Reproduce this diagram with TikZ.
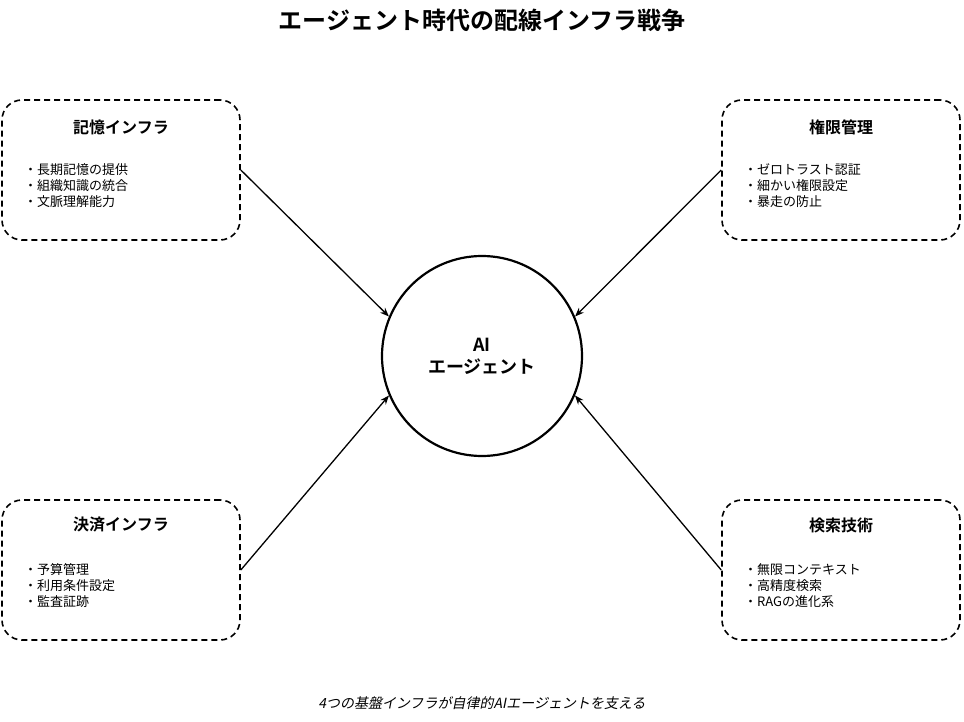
\documentclass[tikz,border=0pt]{standalone}
\usepackage{fontspec}
\setmainfont{Noto Sans CJK JP}[BoldFont={Noto Sans CJK JP Bold}, AutoFakeSlant=0.2]
\usepackage{tikz}
\usetikzlibrary{arrows.meta}
\usetikzlibrary{positioning}
\tikzset{
infra box/.style = { rectangle, draw = black, line width = 1.6pt, dash pattern = on 6pt off 4pt, rounded corners = 20pt, minimum width = 238pt, minimum height = 140pt, inner sep = 0pt },
infra title/.style = { font = \fontsize{16}{18}\selectfont\bfseries },
infra list/.style = { anchor = west, align = left, inner sep = 0pt, font = \fontsize{13}{16}\selectfont },
}
\begin{document}
\begin{tikzpicture}[x=1pt, y=-1pt]
      \useasboundingbox (0,0) rectangle (964,722);
      \node[font=\fontsize{24}{28}\selectfont\bfseries] (title) at (482,20) {エージェント時代の配線インフラ戦争};
      \node[circle, draw, line width=2.2pt, minimum size=200pt, align=center, font=\fontsize{18}{22}\selectfont\bfseries] (ai) at (482,356) {AI\\エージェント};
      \begin{scope}[every node/.style={infra box}]
        \node (mem) at (121,170) {};
        \node (auth) at (841,170) {};
        \node (pay) at (121,570) {};
        \node (srch) at (841,570) {};
      \end{scope}
      \node[infra title] (memt) at (121,127) {記憶インフラ};
      \node[infra list] (meml) at (24,186) {・長期記憶の提供\\・組織知識の統合\\・文脈理解能力};
      \node[infra title] (autht) at (841,127) {権限管理};
      \node[infra list] (authl) at (744,186) {・ゼロトラスト認証\\・細かい権限設定\\・暴走の防止};
      \node[infra title] (payt) at (121,525) {決済インフラ};
      \node[infra list] (payl) at (24,586) {・予算管理\\・利用条件設定\\・監査証跡};
      \node[infra title] (srcht) at (841,525) {検索技術};
      \node[infra list] (srchl) at (744,586) {・無限コンテキスト\\・高精度検索\\・RAGの進化系};
      \begin{scope}[>={Stealth[black, length=9pt, width=7pt]},
                    every edge/.style={draw=black, line width=1.3pt}]
        \path [->] (mem.east) edge (ai.157);
        \path [->] (auth.west) edge (ai.23);
        \path [->] (pay.east) edge (ai.203);
        \path [->] (srch.west) edge (ai.337);
      \end{scope}
      \node[font=\fontsize{14}{16}\selectfont\itshape] (caption) at (482,703) {4つの基盤インフラが自律的AIエージェントを支える};
    \end{tikzpicture}
\end{document}
